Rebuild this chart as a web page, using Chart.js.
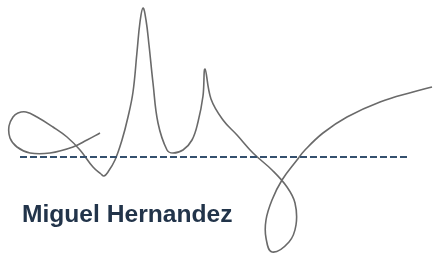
<!DOCTYPE html>
<html>
<head>
<meta charset="utf-8">
<script src="https://cdn.jsdelivr.net/npm/chart.js@4/dist/chart.umd.min.js"></script>
<style>
  html, body { margin: 0; padding: 0; background: #fff; }
  #wrap { position: relative; width: 434px; height: 253px; }
  #sig { position: absolute; left: 0; top: 0; }
  #name {
    position: absolute; left: 22px; top: 201px;
    font: bold 24.6px "Liberation Sans", Arial, sans-serif;
    line-height: 25px; color: #22344a; letter-spacing: 0;
    white-space: nowrap;
  }
</style>
</head>
<body>
<div id="wrap">
  <canvas id="sig" width="434" height="253"></canvas>
  <div id="name">Miguel Hernandez</div>
</div>
<script>
// signature stroke (pixel space, y down)
var strokeX = [100, 87, 73, 50, 30, 17, 10, 9, 13, 18, 26, 37, 53, 67, 80, 93, 101, 104, 108, 115, 122, 128, 133, 137, 140, 143, 146, 149, 153, 158, 167, 173, 183, 192, 198, 203, 205, 211, 223, 237, 253, 272, 287, 295, 296, 289, 272, 266, 266, 272, 282, 297, 305, 323, 347, 380, 413, 432];
var strokeY = [133, 140, 147, 153, 153, 147, 138, 126, 117, 113, 112, 117, 127, 137, 150, 167, 174, 176, 172, 160, 140, 117, 92, 52, 22, 8, 20, 45, 83, 123, 150, 153, 150, 140, 122, 96, 69, 99, 120, 135, 153, 170, 187, 203, 225, 242, 252, 238, 220, 200, 180, 160, 150, 133, 117, 102, 92, 87];

// dashed signing line
var ruleX = [20, 410];
var ruleY = [157, 157];

var signerName = 'Miguel Hernandez';
document.getElementById('name').textContent = signerName;

function toPoints(xs, ys) {
    return xs.map(function(x, i) { return {x: x, y: ys[i]}; });
}

var ctx = document.getElementById('sig').getContext('2d');
new Chart(ctx, {
    type: 'scatter',
    data: {
        datasets: [{
            label: 'rule',
            data: toPoints(ruleX, ruleY),
            showLine: true,
            borderColor: '#34506e',
            borderWidth: 2,
            borderDash: [7, 3],
            pointRadius: 0
        }, {
            label: 'signature',
            data: toPoints(strokeX, strokeY),
            showLine: true,
            borderColor: '#6a6a6a',
            borderWidth: 1.6,
            tension: 0.4,
            pointRadius: 0
        }]
    },
    options: {
        responsive: false,
        animation: false,
        devicePixelRatio: 1,
        layout: { padding: 0 },
        plugins: { legend: { display: false }, tooltip: { enabled: false } },
        scales: {
            x: { type: 'linear', min: 0, max: 434, display: false },
            y: { type: 'linear', min: 0, max: 253, reverse: true, display: false }
        }
    }
});
</script>
</body>
</html>
